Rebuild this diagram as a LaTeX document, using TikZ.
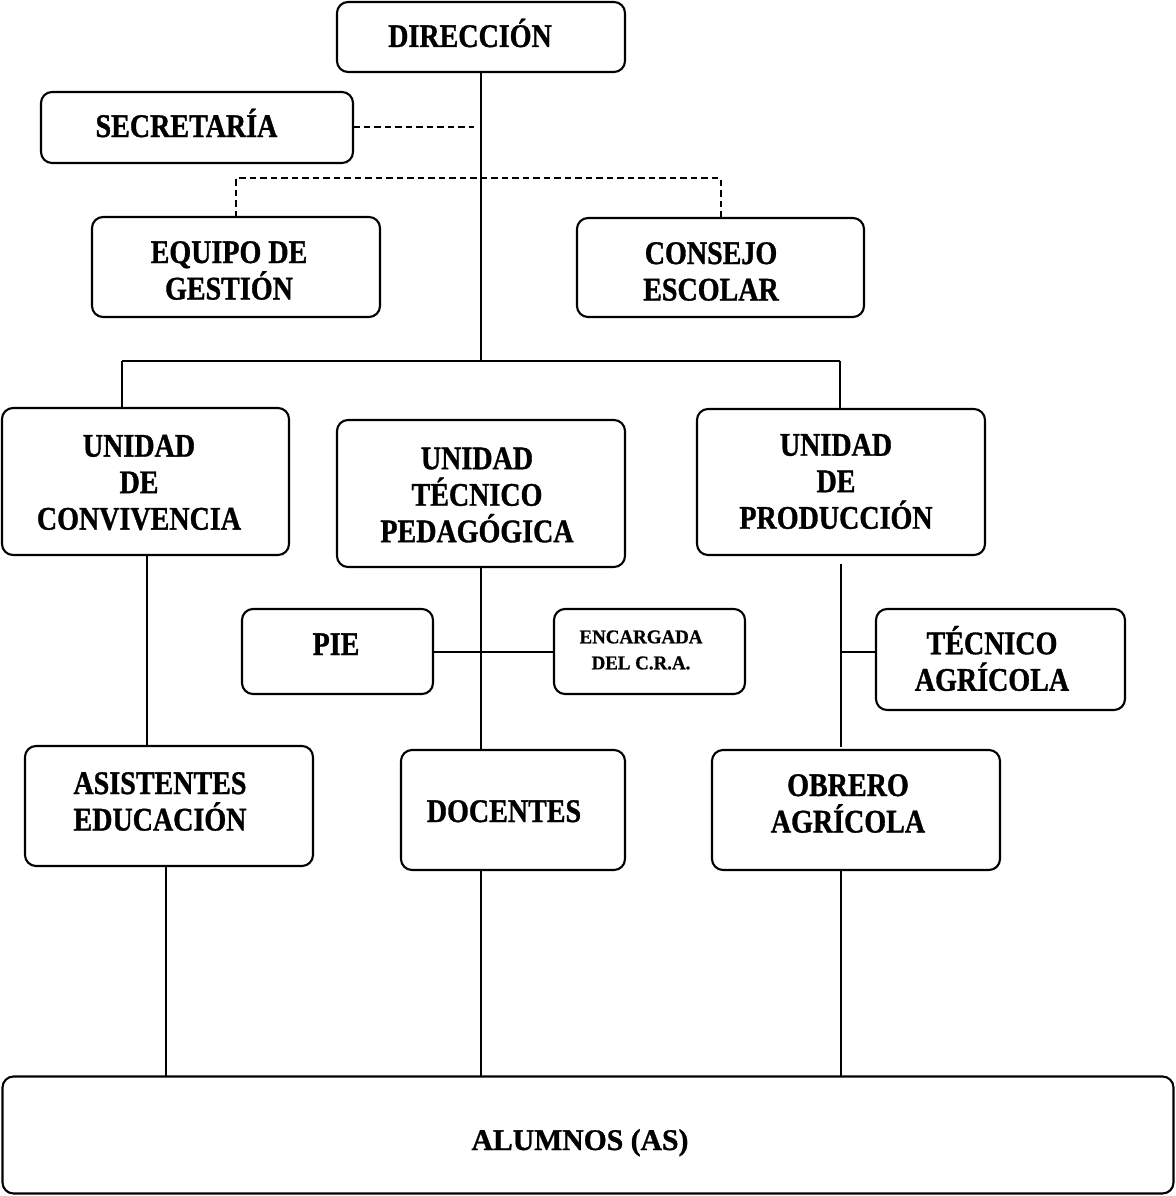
\documentclass[tikz,border=0pt]{standalone}
\usepackage{fontspec}
\setmainfont{Liberation Serif}
\newfontfamily\mainf{Liberation Serif}[FakeStretch=0.85, FakeBold=1]
\newfontfamily\smallf{Liberation Serif}[FakeStretch=0.97, FakeBold=0.8]
\newfontfamily\widef{Liberation Serif}[FakeStretch=0.99, FakeBold=1]
\tikzset{
  box/.style={draw, line width=2.1pt, rounded corners=11pt, inner sep=0pt, outer sep=0pt},
  lbl/.style={font=\mainf\bfseries\fontsize{33}{36.5}\selectfont, align=center, inner sep=0pt},
  slbl/.style={font=\smallf\bfseries\fontsize{19.5}{26}\selectfont, align=center, inner sep=0pt},
  conn/.style={line width=2pt},
  dconn/.style={line width=2pt, dash pattern=on 6.5pt off 4pt}
}
\begin{document}
\begin{tikzpicture}[x=1pt,y=-1pt]
\useasboundingbox (0,0) rectangle (1175,1196);
% boxes
\node[box, minimum width=288pt, minimum height=70pt] (dir) at (481,37) {};
\node[box, minimum width=312pt, minimum height=71pt] (sec) at (197,127.5) {};
\node[box, minimum width=288pt, minimum height=100pt] (eq) at (236,267) {};
\node[box, minimum width=287pt, minimum height=99pt] (con) at (720.5,267.5) {};
\node[box, minimum width=287pt, minimum height=147pt] (uc) at (145.5,481.5) {};
\node[box, minimum width=288pt, minimum height=147pt] (utp) at (481,493.5) {};
\node[box, minimum width=288pt, minimum height=146pt] (up) at (841,482) {};
\node[box, minimum width=191pt, minimum height=85pt] (pie) at (337.5,651.5) {};
\node[box, minimum width=191pt, minimum height=85pt] (cra) at (649.5,651.5) {};
\node[box, minimum width=249pt, minimum height=101pt] (tec) at (1000.5,659.5) {};
\node[box, minimum width=288pt, minimum height=120pt] (asi) at (169,806) {};
\node[box, minimum width=224pt, minimum height=120pt] (doc) at (513,810) {};
\node[box, minimum width=288pt, minimum height=120pt] (obr) at (856,810) {};
\node[box, minimum width=1171pt, minimum height=117pt] (alu) at (588,1135) {};
% texts
\node[lbl, anchor=base] (tdir) at (470,47) {DIRECCIÓN};
\node[lbl, anchor=base] (tsec) at (186.5,137) {SECRETARÍA};
\node[lbl] (teq) at (229,270.5) {EQUIPO DE\\GESTIÓN};
\node[lbl] (tcon) at (711,271.5) {CONSEJO\\ESCOLAR};
\node[lbl] (tuc) at (139,482.5) {UNIDAD\\DE\\CONVIVENCIA};
\node[lbl] (tutp) at (477,495) {UNIDAD\\TÉCNICO\\PEDAGÓGICA};
\node[lbl] (tup) at (836,481.5) {UNIDAD\\DE\\PRODUCCIÓN};
\node[lbl, anchor=base] (tpie) at (336,655) {PIE};
\node[slbl] (tcra) at (641,650) {ENCARGADA\\DEL C.R.A.};
\node[lbl] (ttec) at (992,658.5) {TÉCNICO\\AGRÍCOLA};
\node[lbl] (tasi) at (160,801.5) {ASISTENTES\\EDUCACIÓN};
\node[lbl, anchor=base] (tdoc) at (504,822) {DOCENTES};
\node[lbl] (tobr) at (848,803.5) {OBRERO\\AGRÍCOLA};
\node[font=\widef\bfseries\fontsize{30}{34}\selectfont, inner sep=0pt, anchor=base] (talu) at (580,1150) {ALUMNOS (AS)};
% helper coordinates
\coordinate (j) at (481,360.5);
\coordinate (jl) at (122,360.5);
\coordinate (jr) at (840,360.5);
\coordinate (secend) at (474,127.5);
\coordinate (dy) at (0,178);
\coordinate (xc) at (147,0);
\coordinate (pa) at (841,564);
\coordinate (pb) at (841,747);
\coordinate (pm) at (841,652);
\coordinate (xa) at (166,0);
% solid connectors
\draw[conn] (dir.south) -- (j);
\draw[conn] (jl) -- (jr);
\draw[conn] (jl) -- (jl |- uc.north);
\draw[conn] (jr) -- (jr |- up.north);
\draw[conn] (utp.south) -- (utp.south |- doc.north);
\draw[conn] (pie.east) -- (cra.west);
\draw[conn] (uc.south -| xc) -- (asi.north -| xc);
\draw[conn] (pa) -- (pb);
\draw[conn] (pm) -- (pm -| tec.west);
\draw[conn] (asi.south -| xa) -- (alu.north -| xa);
\draw[conn] (doc.south -| utp.south) -- (alu.north -| utp.south);
\draw[conn] (obr.south -| pa) -- (alu.north -| pa);
% dashed connectors
\draw[dconn] (sec.east) -- (secend);
\draw[dconn] (eq.north) -- (eq.north |- dy) -- (con.north |- dy) -- (con.north);
\end{tikzpicture}
\end{document}
